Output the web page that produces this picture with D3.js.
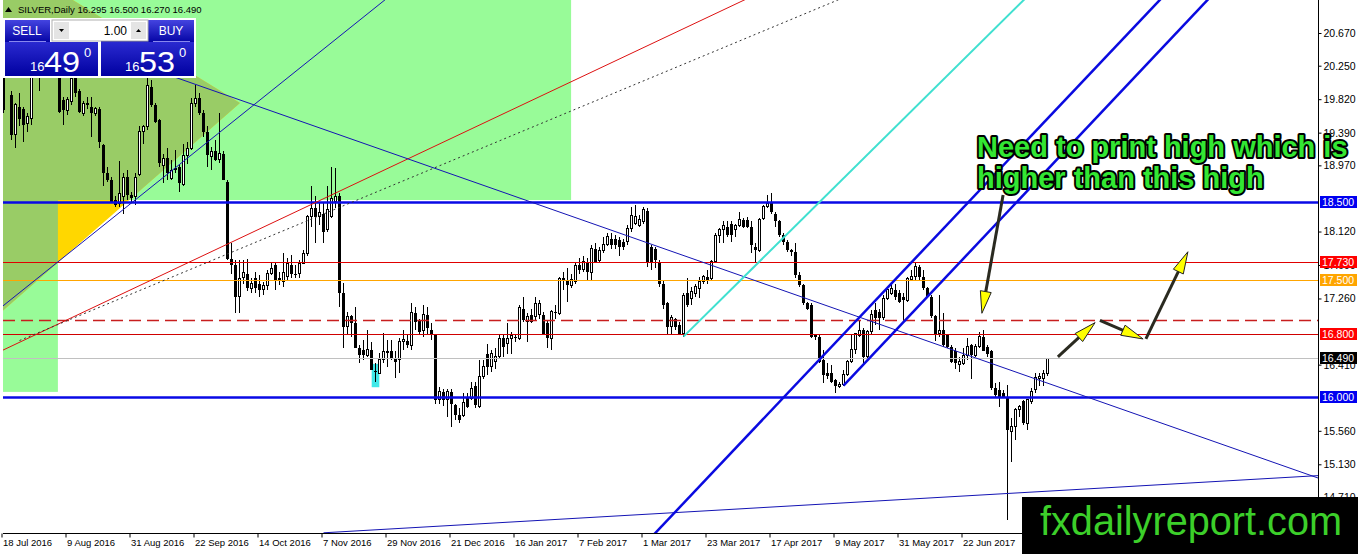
<!DOCTYPE html>
<html>
<head>
<meta charset="utf-8">
<script src="https://cdn.jsdelivr.net/npm/d3@7"></script>
<style>
  body { margin: 0; background: #fff; }
  svg { display: block; font-family: "Liberation Sans", Arial, sans-serif; }
</style>
</head>
<body>
<svg id="chart" width="1358" height="554"></svg>
<script>
// daily SILVER bars, 18 Jul 2016 .. 21 Jul 2017
const opens = [
  20.20,20.15,19.87,19.36,19.72,19.70,19.51,19.57,20.15,20.30,
  20.40,20.50,20.45,20.30,20.22,19.81,19.68,19.79,20.09,19.92,
  19.64,19.77,19.72,19.64,19.70,19.23,18.87,18.78,18.53,18.48,
  18.57,18.82,18.59,18.57,18.85,19.40,19.47,19.98,19.75,19.55,
  18.97,19.06,18.80,18.93,18.95,18.72,19.10,19.19,19.77,19.83,
  19.64,19.40,19.08,19.15,19.04,19.12,18.76,17.77,17.69,17.28,
  17.53,17.58,17.39,17.52,17.45,17.37,17.43,17.58,17.69,17.52,
  17.48,17.54,17.69,17.58,17.58,17.71,17.84,18.31,18.42,18.31,
  18.35,18.14,18.31,18.50,18.57,17.33,16.90,17.03,16.94,16.62,
  16.60,16.53,16.60,16.33,16.30,16.47,16.58,16.58,16.48,16.47,
  16.71,16.71,16.66,17.07,16.98,16.85,17.05,16.86,16.79,15.96,
  16.06,15.96,16.06,15.89,15.76,15.76,16.00,15.98,16.13,15.87,
  16.26,16.55,16.38,16.45,16.51,16.75,16.68,16.75,16.77,16.75,
  17.13,16.96,17.05,17.03,17.05,17.05,16.94,16.75,17.09,17.07,
  17.52,17.50,17.43,17.48,17.69,17.63,17.73,17.60,17.90,17.75,
  17.88,17.95,18.03,18.03,18.01,17.99,17.99,18.16,18.22,18.20,
  18.25,18.38,17.92,17.90,17.73,17.45,17.20,16.90,16.99,16.92,
  16.81,17.33,17.26,17.33,17.39,17.48,17.54,17.52,17.73,18.07,
  18.14,18.18,18.22,18.14,18.20,18.27,18.27,18.18,17.92,17.88,
  18.29,18.44,18.48,18.35,18.25,18.07,17.99,17.88,17.86,17.56,
  17.43,17.20,17.18,16.79,16.77,16.47,16.30,16.30,16.21,16.13,
  16.15,16.28,16.45,16.60,16.79,16.85,16.51,16.83,17.11,17.09,
  17.01,17.26,17.33,17.37,17.33,17.28,17.24,17.50,17.54,17.67,
  17.54,17.39,17.28,17.03,16.81,16.85,16.79,16.64,16.58,16.41,
  16.43,16.53,16.66,16.53,16.64,16.77,16.64,16.58,16.11,16.09,
  16.04,16.00,15.55,15.61,15.83,15.94,15.66,15.94,16.09,16.23,
  16.23,16.295
];
const highs = [
  20.30,20.40,19.92,19.77,19.90,19.72,19.64,20.20,20.40,20.50,
  20.60,20.70,20.55,20.40,20.30,19.85,19.85,20.20,20.15,19.95,
  19.80,19.85,19.85,19.72,19.72,19.25,18.95,18.82,18.58,19.02,
  18.87,18.91,18.63,18.87,19.47,19.49,20.09,20.06,19.77,19.57,
  19.12,19.19,19.04,19.17,18.97,19.25,19.27,19.83,20.00,19.90,
  19.68,19.47,19.21,19.30,19.64,19.15,18.78,17.97,17.75,17.75,
  17.75,17.77,17.52,17.60,17.56,17.47,17.62,17.73,17.73,17.60,
  17.84,17.78,17.82,17.69,17.75,17.88,18.33,18.70,18.57,18.48,
  18.48,18.70,18.95,18.93,18.61,17.46,17.09,17.05,17.15,16.66,
  16.73,16.85,16.70,16.43,16.56,16.82,16.73,16.73,16.58,16.75,
  16.86,16.81,17.20,17.15,17.00,17.18,17.15,16.94,16.81,16.12,
  16.10,16.10,16.10,15.91,15.85,16.04,16.04,16.19,16.19,16.47,
  16.47,16.68,16.60,16.62,16.81,16.81,16.94,16.83,16.81,17.18,
  17.28,17.07,17.13,17.28,17.24,17.09,16.98,17.11,17.18,17.54,
  17.60,17.65,17.58,17.73,17.78,17.80,17.78,17.95,17.97,17.92,
  18.05,18.10,18.10,18.07,18.05,18.03,18.20,18.44,18.46,18.33,
  18.44,18.42,17.95,17.92,17.75,17.48,17.22,17.05,17.01,16.96,
  17.33,17.52,17.41,17.45,17.54,17.56,17.63,17.75,18.10,18.16,
  18.25,18.25,18.25,18.22,18.37,18.29,18.31,18.25,17.97,18.29,
  18.46,18.59,18.61,18.37,18.27,18.10,18.01,17.90,17.97,17.60,
  17.45,17.22,17.20,16.81,16.79,16.60,16.43,16.40,16.23,16.19,
  16.34,16.47,16.81,16.81,16.98,16.88,16.85,17.11,17.20,17.13,
  17.30,17.41,17.45,17.45,17.37,17.33,17.54,17.63,17.71,17.69,
  17.63,17.41,17.30,17.05,17.30,17.07,16.81,16.66,16.62,16.51,
  16.62,16.75,16.68,16.68,16.83,16.86,16.66,16.60,16.17,16.19,
  16.09,16.15,15.72,15.85,15.89,15.96,15.96,16.11,16.30,16.30,
  16.34,16.50
];
const lows = [
  19.64,20.12,19.30,19.19,19.47,19.27,19.40,19.49,20.12,19.92,
  20.20,20.30,20.20,20.15,19.64,19.49,19.62,19.75,19.85,19.64,
  19.60,19.70,19.34,19.60,19.19,18.70,18.76,18.48,18.44,18.44,
  18.35,18.53,18.50,18.46,18.83,19.25,19.42,19.72,19.51,18.95,
  18.74,18.78,18.78,18.87,18.63,18.70,18.99,19.17,19.72,19.62,
  19.34,18.95,18.91,19.02,19.00,18.78,17.75,17.58,17.07,17.07,
  17.45,17.35,17.33,17.33,17.28,17.30,17.37,17.56,17.37,17.43,
  17.41,17.50,17.52,17.52,17.52,17.71,17.80,18.18,17.97,18.20,
  17.97,18.12,18.29,18.42,17.15,16.62,16.79,16.77,16.62,16.43,
  16.47,16.51,16.34,16.19,16.30,16.43,16.38,16.47,16.24,16.30,
  16.60,16.62,16.60,16.86,16.79,16.77,16.81,16.73,15.90,15.90,
  15.88,15.74,15.61,15.70,15.66,15.74,15.85,15.96,15.85,15.85,
  16.23,16.28,16.32,16.36,16.49,16.51,16.55,16.55,16.70,16.73,
  16.96,16.70,16.94,16.98,17.00,16.79,16.62,16.60,17.00,17.05,
  17.37,17.22,17.39,17.45,17.58,17.60,17.49,17.48,17.71,17.71,
  17.84,17.93,17.90,17.90,17.80,17.88,17.95,18.12,18.20,18.18,
  18.22,17.67,17.63,17.65,17.41,17.13,16.79,16.79,16.85,16.79,
  16.77,17.15,17.18,17.28,17.26,17.45,17.45,17.50,17.71,17.97,
  17.97,18.05,17.99,18.05,18.18,18.16,18.16,17.84,17.73,17.86,
  18.27,18.42,18.35,18.18,18.05,17.95,17.86,17.80,17.52,17.41,
  17.18,17.11,16.75,16.73,16.43,16.17,16.23,16.17,16.04,16.11,
  16.13,16.26,16.43,16.55,16.77,16.43,16.49,16.81,16.92,16.85,
  16.98,17.24,17.30,17.24,17.20,16.98,17.22,17.48,17.48,17.48,
  17.37,17.26,17.01,16.71,16.77,16.64,16.62,16.43,16.36,16.32,
  16.41,16.47,16.23,16.51,16.62,16.58,16.51,16.09,16.00,15.87,
  15.98,14.41,15.16,15.44,15.74,15.64,15.57,15.91,16.04,16.13,
  16.13,16.27
];
const closes = [
  19.68,20.30,19.36,19.75,19.57,19.49,19.60,20.15,20.30,20.40,
  20.50,20.45,20.30,20.22,19.66,19.68,19.81,20.09,19.90,19.66,
  19.77,19.75,19.64,19.70,19.27,18.87,18.78,18.50,18.46,18.61,
  18.82,18.59,18.55,18.82,19.40,19.47,20.00,19.75,19.53,19.00,
  19.06,18.87,18.91,18.91,18.74,19.10,19.19,19.77,19.83,19.64,
  19.40,19.10,19.15,19.04,19.12,18.78,17.77,17.69,17.28,17.52,
  17.59,17.39,17.45,17.39,17.37,17.43,17.58,17.65,17.50,17.48,
  17.60,17.71,17.58,17.56,17.71,17.84,18.31,18.42,18.31,18.37,
  18.12,18.40,18.55,18.57,17.33,16.90,17.03,16.94,16.62,16.53,
  16.53,16.60,16.34,16.31,16.47,16.58,16.56,16.48,16.45,16.71,
  16.73,16.66,17.08,16.96,16.83,17.05,16.88,16.79,15.96,16.06,
  15.96,16.06,15.91,15.76,15.70,15.93,15.87,16.11,15.89,16.26,
  16.38,16.38,16.55,16.51,16.75,16.64,16.75,16.79,16.75,17.15,
  16.98,17.03,16.96,17.20,17.20,16.81,16.75,17.09,17.07,17.52,
  17.48,17.43,17.50,17.69,17.63,17.73,17.60,17.90,17.73,17.88,
  17.95,18.05,17.95,17.95,17.92,17.92,18.16,18.33,18.31,18.27,
  18.40,17.73,17.73,17.75,17.45,17.18,16.90,17.01,16.90,16.81,
  17.30,17.18,17.35,17.41,17.48,17.54,17.48,17.73,18.07,18.14,
  18.20,18.07,18.07,18.20,18.27,18.18,18.18,17.95,17.88,18.27,
  18.44,18.48,18.37,18.25,18.07,17.99,17.88,17.86,17.56,17.43,
  17.20,17.13,16.77,16.77,16.45,16.28,16.26,16.19,16.13,16.15,
  16.28,16.45,16.60,16.81,16.85,16.51,16.83,17.05,17.01,17.01,
  17.26,17.37,17.39,17.28,17.22,17.24,17.52,17.54,17.67,17.54,
  17.39,17.28,17.03,16.81,16.85,16.66,16.64,16.45,16.43,16.45,
  16.53,16.64,16.53,16.64,16.77,16.58,16.55,16.11,16.02,16.00,
  16.00,15.57,15.61,15.83,15.87,15.66,15.96,16.06,16.24,16.26,
  16.30,16.49
];

const dateLabels = ["18 Jul 2016","9 Aug 2016","31 Aug 2016","22 Sep 2016","14 Oct 2016","7 Nov 2016",
  "29 Nov 2016","21 Dec 2016","16 Jan 2017","7 Feb 2017","1 Mar 2017","23 Mar 2017","17 Apr 2017",
  "9 May 2017","31 May 2017","22 Jun 2017"];
const dateLabelBars = [0,16,32,48,64,80,96,112,128,144,160,176,192,208,224,240];
// grid labels that are not covered by a level label
const priceTicks = [20.67,20.25,19.82,19.39,18.97,18.12,17.69,17.26,16.41,15.56,15.13,14.71];

// horizontal levels drawn on the chart
const levelPrices = [18.5, 17.73, 17.5, 16.98, 16.8, 16.49, 16.0];

// objects in (bar index, price)
const greenZones = [[-0.2, 141.9, 18.525, 21.5], [-0.2, 13.6, 16.06, 18.525]];
const triangleZone = [[59.1, 19.77], [-0.9, 17.07], [-0.9, 21.67]];
const cyanBox = [92.05, 93.95, 16.12, 16.42];
const trendBlueUp = [[0, 17.17], [60, 19.64]];
const trendRed = [[0, 16.60], [150, 20.24]];
const trendDotted = [[4, 16.72], [200, 20.91]];
const trendBlueDown = [[43, 20.10], [300, 15.47]];
const trendBlueFlat = [[80, 14.25], [300, 14.90]];
const channelLower = [[163, 14.25], [289, 21.09]];
const channelUpper = [[210, 16.14], [300, 21.04]];
const cyanTrend = [[170, 16.77], [254, 21.04]];
const bigArrow = [[249.9, 18.59], [244.6, 17.07]];
const pathArrows = [
  [[263.6, 16.51], [272.9, 16.95]],
  [[274.1, 16.98], [284.9, 16.74]],
  [[285.6, 16.74], [296.1, 17.86]]
];

const W = 1358, H = 554;
const left = 3, right = 1318, bottom = 533;

const svg = d3.select("#chart");
svg.append("rect").attr("width", W).attr("height", H).attr("fill", "#fff");

const x = d3.scaleLinear().domain([0, 261]).range([3.5, 1047.5]);
const y = d3.scaleLinear().domain([14.71, 20.67]).range([497, 33]);

const defs = svg.append("defs");
defs.append("clipPath").attr("id", "plotClip")
  .append("rect").attr("x", left).attr("y", 0).attr("width", right - left).attr("height", bottom);
const zoneClip = defs.append("clipPath").attr("id", "zoneClip");
greenZones.forEach(z => {
  zoneClip.append("rect")
    .attr("x", x(z[0])).attr("y", y(z[3]))
    .attr("width", x(z[1]) - x(z[0])).attr("height", y(z[2]) - y(z[3]));
});
const grad = defs.append("linearGradient").attr("id", "btnGrad")
  .attr("x1", 0).attr("y1", 0).attr("x2", 0).attr("y2", 1);
grad.append("stop").attr("offset", "0%").attr("stop-color", "#4444e0");
grad.append("stop").attr("offset", "100%").attr("stop-color", "#0505a5");
const grad2 = defs.append("linearGradient").attr("id", "boxGrad")
  .attr("x1", 0).attr("y1", 0).attr("x2", 0).attr("y2", 1);
grad2.append("stop").attr("offset", "0%").attr("stop-color", "#2a2ad0");
grad2.append("stop").attr("offset", "100%").attr("stop-color", "#0000a0");

const plot = svg.append("g").attr("clip-path", "url(#plotClip)");

// filled zones
plot.selectAll("rect.zone").data(greenZones).join("rect").attr("class", "zone")
  .attr("x", d => x(d[0])).attr("y", d => y(d[3]))
  .attr("width", d => x(d[1]) - x(d[0])).attr("height", d => y(d[2]) - y(d[3]))
  .attr("fill", "#98fb98");
const triPts = triangleZone.map(p => [x(p[0]), y(p[1])].join(",")).join(" ");
plot.append("polygon").attr("points", triPts).attr("fill", "#ffd700");
plot.append("polygon").attr("points", triPts).attr("fill", "#99cc66").attr("clip-path", "url(#zoneClip)");
plot.append("rect")
  .attr("x", x(cyanBox[0])).attr("y", y(cyanBox[3]))
  .attr("width", x(cyanBox[1]) - x(cyanBox[0])).attr("height", y(cyanBox[2]) - y(cyanBox[3]))
  .attr("fill", "#40e8e8");

// candles
const bars = opens.map((o, i) => ({ i, o, h: highs[i], l: lows[i], c: closes[i] }));
const cg = plot.append("g").attr("shape-rendering", "crispEdges");
cg.selectAll("line").data(bars).join("line")
  .attr("x1", d => x(d.i)).attr("x2", d => x(d.i))
  .attr("y1", d => y(d.h)).attr("y2", d => y(d.l))
  .attr("stroke", "#000").attr("stroke-width", 1);
cg.selectAll("rect").data(bars).join("rect")
  .attr("x", d => d.c >= d.o ? x(d.i) - 1 : x(d.i) - 1.5)
  .attr("width", d => d.c >= d.o ? 2 : 3)
  .attr("y", d => y(Math.max(d.o, d.c)))
  .attr("height", d => Math.max(1, Math.abs(y(d.o) - y(d.c))))
  .attr("fill", d => d.c >= d.o ? "#fff" : "#000")
  .attr("stroke", d => d.c >= d.o ? "#000" : "none")
  .attr("stroke-width", 1);

// horizontal levels
const levelStyle = [
  { stroke: "#0a0ae6", w: 2.5 }, { stroke: "#e00000", w: 1 }, { stroke: "#ffa500", w: 1 },
  { stroke: "#c81e1e", w: 1.5, dash: "12,6" }, { stroke: "#d00000", w: 1 },
  { stroke: "#c0c0c0", w: 1 }, { stroke: "#0a0ae6", w: 2.5 }
];
plot.selectAll("line.level").data(levelPrices).join("line").attr("class", "level")
  .attr("x1", left).attr("x2", right)
  .attr("y1", d => Math.round(y(d)) + 0.5).attr("y2", d => Math.round(y(d)) + 0.5)
  .attr("stroke", (d, i) => levelStyle[i].stroke)
  .attr("stroke-width", (d, i) => levelStyle[i].w)
  .attr("stroke-dasharray", (d, i) => levelStyle[i].dash || null);

// trend lines
function trend(pts, extendLeft) {
  const x1 = x(pts[0][0]), y1 = y(pts[0][1]), x2 = x(pts[1][0]), y2 = y(pts[1][1]);
  const m = (y2 - y1) / (x2 - x1);
  const xa = extendLeft ? -20 : x1, xb = 1400;
  return { x1: xa, y1: y1 + m * (xa - x1), x2: xb, y2: y1 + m * (xb - x1) };
}
const trends = [
  { pts: trendBlueUp, ext: true, stroke: "#1414b4", w: 1 },
  { pts: trendRed, ext: true, stroke: "#dd1010", w: 1 },
  { pts: trendDotted, ext: false, stroke: "#333", w: 1, dash: "2,3" },
  { pts: trendBlueDown, ext: false, stroke: "#1414b4", w: 1 },
  { pts: trendBlueFlat, ext: false, stroke: "#1414b4", w: 1 },
  { pts: channelLower, ext: true, stroke: "#0a0ae0", w: 2.5 },
  { pts: channelUpper, ext: false, stroke: "#0a0ae0", w: 2.5 },
  { pts: cyanTrend, ext: false, stroke: "#40e0d0", w: 2 }
];
trends.forEach(t => {
  const s = trend(t.pts, t.ext);
  plot.append("line").attr("x1", s.x1).attr("y1", s.y1).attr("x2", s.x2).attr("y2", s.y2)
    .attr("stroke", t.stroke).attr("stroke-width", t.w).attr("stroke-dasharray", t.dash || null);
});

// arrows
function arrow(pts) {
  const x1 = x(pts[0][0]), y1 = y(pts[0][1]), x2 = x(pts[1][0]), y2 = y(pts[1][1]);
  const len = Math.hypot(x2 - x1, y2 - y1), ux = (x2 - x1) / len, uy = (y2 - y1) / len;
  plot.append("line").attr("x1", x1).attr("y1", y1).attr("x2", x2 - ux * 6).attr("y2", y2 - uy * 6)
    .attr("stroke", "#2a2a20").attr("stroke-width", 3);
  const hl = 22, hw = 5.5;
  const bx = x2 - ux * hl, by = y2 - uy * hl;
  const pts2 = [[x2, y2], [bx - uy * hw, by + ux * hw], [bx + uy * hw, by - ux * hw]];
  plot.append("polygon").attr("points", pts2.map(p => p.join(",")).join(" "))
    .attr("fill", "#ffff00").attr("stroke", "#222").attr("stroke-width", 1);
}
arrow(bigArrow);
pathArrows.forEach(arrow);

// frame
svg.append("line").attr("x1", right + 0.5).attr("x2", right + 0.5).attr("y1", 0).attr("y2", bottom + 1)
  .attr("stroke", "#000");
svg.append("line").attr("x1", left).attr("x2", right + 1).attr("y1", bottom + 0.5).attr("y2", bottom + 0.5)
  .attr("stroke", "#000");

// price axis
const yAxis = d3.axisRight(y).tickValues(priceTicks).tickFormat(d3.format(".3f")).tickSize(3).tickPadding(2);
const ya = svg.append("g").attr("transform", `translate(${right + 0.5},0)`).call(yAxis);
ya.select(".domain").remove();
ya.selectAll("text").attr("font-size", 10.5).attr("font-family", "Liberation Sans, Arial, sans-serif").attr("fill", "#000");

// level labels
const labelBg = ["#0000f0", "#ff0000", "#ffa500", null, "#ff0000", "#000", "#0000f0"];
levelPrices.forEach((p, i) => {
  if (!labelBg[i]) return;
  const yy = Math.round(y(p));
  svg.append("rect").attr("x", right + 2).attr("y", yy - 6).attr("width", 37).attr("height", 12)
    .attr("fill", labelBg[i]);
  svg.append("text").attr("x", right + 4).attr("y", yy + 4).attr("font-size", 10.5)
    .attr("fill", "#fff").text(d3.format(".3f")(p));
});

// annotation text
const note = svg.append("g").attr("font-weight", "bold").attr("font-size", 29)
  .attr("fill", "#33e633").attr("stroke", "#000").attr("stroke-width", 4)
  .attr("paint-order", "stroke").attr("stroke-linejoin", "round");
note.append("text").attr("x", 977).attr("y", 157).text("Need to print high which is");
note.append("text").attr("x", 977).attr("y", 188).text("higher than this high");

// date axis
const xAxis = d3.axisBottom(x).tickValues(dateLabelBars)
  .tickFormat((d, i) => dateLabels[i]).tickSize(4);
const xa = svg.append("g").attr("transform", `translate(0,${bottom + 0.5})`).call(xAxis);
xa.select(".domain").remove();
xa.selectAll(".tick line").attr("transform", "translate(-2,0)");
xa.selectAll("text").attr("text-anchor", "start").attr("dx", -1).attr("dy", "0.55em")
  .attr("font-size", 9.5).attr("font-family", "Liberation Sans, Arial, sans-serif").attr("fill", "#000");

// watermark
svg.append("rect").attr("x", 1022).attr("y", 497).attr("width", W - 1022).attr("height", H - 497).attr("fill", "#000");
svg.append("text").attr("x", 1040).attr("y", 535).attr("font-size", 41)
  .attr("textLength", 302).attr("lengthAdjust", "spacingAndGlyphs")
  .attr("fill", "#3ccf2a").text("fxdailyreport.com");

// title
svg.append("path").attr("d", "M5,12 L8.5,7 L12,12 Z").attr("fill", "#000");
svg.append("text").attr("x", 18).attr("y", 13).attr("font-size", 9.5).attr("fill", "#000")
  .text("SILVER,Daily  16.295 16.500 16.270 16.490");

// trade panel
const panel = svg.append("g");
panel.append("rect").attr("x", 3).attr("y", 18).attr("width", 193).attr("height", 60).attr("fill", "#fff");
panel.append("rect").attr("x", 5).attr("y", 20).attr("width", 45).attr("height", 22).attr("fill", "url(#btnGrad)");
panel.append("rect").attr("x", 150).attr("y", 20).attr("width", 44).attr("height", 22).attr("fill", "url(#btnGrad)");
panel.append("rect").attr("x", 5).attr("y", 42).attr("width", 93).attr("height", 34).attr("fill", "url(#boxGrad)");
panel.append("rect").attr("x", 101).attr("y", 42).attr("width", 93).attr("height", 34).attr("fill", "url(#boxGrad)");
panel.append("rect").attr("x", 101).attr("y", 20).attr("width", 49).attr("height", 22).attr("fill", "url(#btnGrad)");
panel.append("rect").attr("x", 52).attr("y", 20).attr("width", 96).attr("height", 21).attr("fill", "#fff")
  .attr("stroke", "#b0b0b0").attr("stroke-width", 1);
panel.append("rect").attr("x", 54).attr("y", 22).attr("width", 15).attr("height", 17).attr("fill", "#e4e4e4");
panel.append("rect").attr("x", 131).attr("y", 22).attr("width", 15).attr("height", 17).attr("fill", "#e4e4e4");
panel.append("path").attr("d", "M59,29 L64,29 L61.5,32 Z").attr("fill", "#000");
panel.append("path").attr("d", "M136,32 L141,32 L138.5,29 Z").attr("fill", "#000");
panel.append("text").attr("x", 127).attr("y", 35).attr("text-anchor", "end").attr("font-size", 12)
  .attr("fill", "#000").text("1.00");
panel.append("line").attr("x1", 9).attr("x2", 46).attr("y1", 41.5).attr("y2", 41.5).attr("stroke", "#8888ee");
panel.append("line").attr("x1", 153).attr("x2", 190).attr("y1", 41.5).attr("y2", 41.5).attr("stroke", "#8888ee");
panel.append("text").attr("x", 27).attr("y", 35).attr("text-anchor", "middle").attr("font-size", 12)
  .attr("fill", "#fff").text("SELL");
panel.append("text").attr("x", 171).attr("y", 35).attr("text-anchor", "middle").attr("font-size", 12)
  .attr("fill", "#fff").text("BUY");
[[30, "49"], [125, "53"]].forEach(([px, big]) => {
  panel.append("text").attr("x", px).attr("y", 71).attr("font-size", 13).attr("fill", "#fff").text("16");
  panel.append("text").attr("x", px + 14).attr("y", 72).attr("font-size", 30)
    .attr("textLength", 36).attr("lengthAdjust", "spacingAndGlyphs").attr("fill", "#fff").text(big);
  panel.append("text").attr("x", px + 54).attr("y", 57).attr("font-size", 13).attr("fill", "#fff").text("0");
});
</script>
</body>
</html>
